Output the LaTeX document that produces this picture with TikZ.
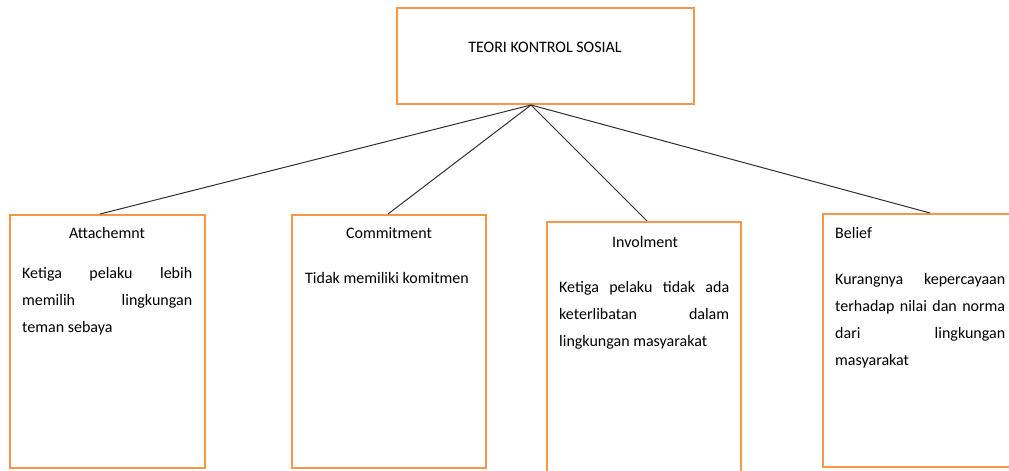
\documentclass[tikz,border=0pt]{standalone}
\usepackage{fontspec}
\setmainfont{Carlito}
\definecolor{oranye}{HTML}{F79646}
\definecolor{garis}{HTML}{303030}

\begin{document}
\begin{tikzpicture}[x=1pt,y=-1pt,
  kotak/.style={draw=oranye,line width=2pt,minimum width=195pt,minimum height=253pt,inner sep=0pt},
  judul/.style={font=\fontsize{16}{27}\selectfont,inner sep=0pt},
  isi/.style={font=\fontsize{16}{27}\selectfont,inner sep=0pt,text width=170pt,align=justify,anchor=base west},
  cabang/.style={draw=garis,line width=1pt}]
\useasboundingbox (0,0) rectangle (1009,471);
% kotak utama
\node[kotak,minimum width=297pt,minimum height=96pt] (teori) at (545.5,56) {};
\node[judul,anchor=base] (teoriteks) at (545,52) {TEORI KONTROL SOSIAL};
\coordinate (puncak) at ([xshift=-14.5pt]teori.south);
% empat unsur
\node[kotak] (att) at (107.5,341.5) {};
\node[kotak,minimum width=194pt] (com) at (389,341.5) {};
\node[kotak,minimum width=194pt,minimum height=256pt] (inv) at (644,350) {};
\node[kotak] (bel) at (920.5,340.5) {};
\draw[cabang] (puncak) -- ([xshift=-7.5pt]att.north);
\draw[cabang] (puncak) -- ([xshift=-1pt]com.north);
\draw[cabang] (puncak) -- ([xshift=3pt]inv.north);
\draw[cabang] (puncak) -- ([xshift=9.5pt]bel.north);
% judul dan isi
\node[judul,anchor=base] (attjudul) at (107,238) {Attachemnt};
\node[isi] (attisi) at (22,278) {Ketiga pelaku lebih\linebreak memilih lingkungan\linebreak teman sebaya};
\node[judul,anchor=base] (comjudul) at (389,238) {Commitment};
\node[isi] (comisi) at (305,283) {Tidak memiliki komitmen};
\node[judul,anchor=base] (invjudul) at (645,247) {Involment};
\node[isi] (invisi) at (559,292) {Ketiga pelaku tidak ada\linebreak keterlibatan dalam\linebreak lingkungan masyarakat};
\node[judul,anchor=base west] (beljudul) at (835,238) {Belief};
\node[isi] (belisi) at (835,284) {Kurangnya kepercayaan\linebreak terhadap nilai dan norma\linebreak dari lingkungan\linebreak masyarakat};
\end{tikzpicture}
\end{document}
